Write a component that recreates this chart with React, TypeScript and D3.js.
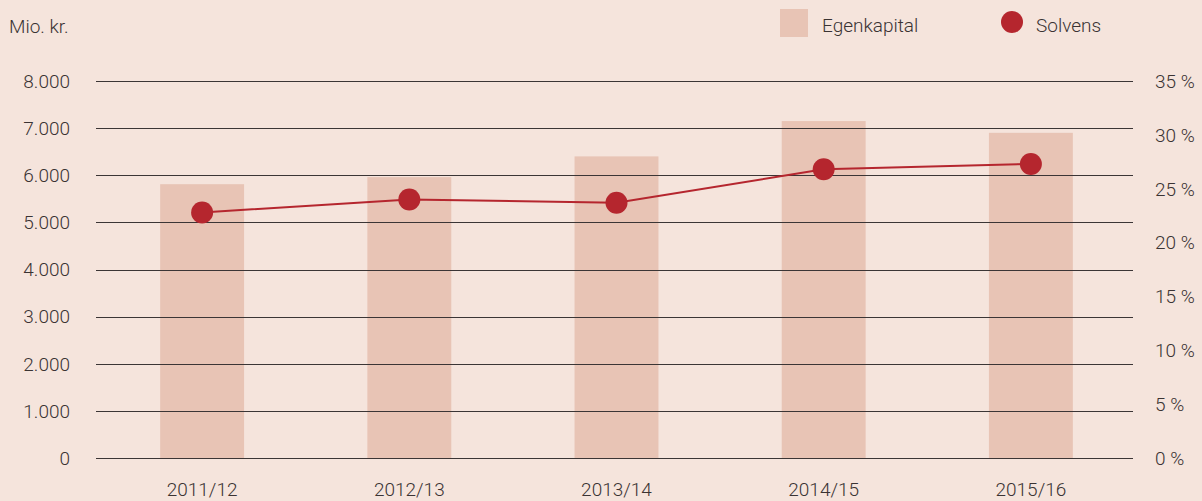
import React from "react";
import * as d3 from "d3";

const categories = ["2011/12", "2012/13", "2013/14", "2014/15", "2015/16"];
const egenkapital = [5810, 5960, 6400, 7150, 6900];
const solvens = [22.8, 24.0, 23.7, 26.8, 27.3];
const leftTicks = [0, 1000, 2000, 3000, 4000, 5000, 6000, 7000, 8000];
const rightTicks = [0, 5, 10, 15, 20, 25, 30, 35];

const W = 1202;
const H = 501;
const BG = "#f5e4dc";
const BAR = "#e8c4b5";
const RED = "#b5262e";
const TEXT = "#3a3333";
const FONT = "Roboto, 'Open Sans', sans-serif";

export default function App() {
  const x = d3.scaleBand<string>().domain(categories).range([98, 1135]).paddingInner(0.595).paddingOuter(0.3);
  const yL = d3.scaleLinear().domain([0, 8000]).range([458, 81]);
  const yR = d3.scaleLinear().domain([0, 35]).range([458, 81]);
  const fmt = (v: number) => d3.format(",")(v).replace(/,/g, ".");
  const cx = (c: string) => (x(c) as number) + x.bandwidth() / 2;
  const line = d3
    .line<number>()
    .x((_, i) => cx(categories[i]))
    .y((d) => yR(d));

  return (
    <svg
      width={W}
      height={H}
      style={{ position: "absolute", left: 0, top: 0, background: BG }}
      fontFamily={FONT}
    >
      <rect x={0} y={0} width={W} height={H} fill={BG} />
      <text x={9} y={33} fontSize={19} fontWeight={300} fill={TEXT}>
        Mio. kr.
      </text>
      {/* legend */}
      <rect x={780} y={9} width={28} height={28} fill={BAR} />
      <text x={822} y={32} fontSize={19} fontWeight={300} fill={TEXT}>
        Egenkapital
      </text>
      <circle cx={1012} cy={22} r={11} fill={RED} />
      <text x={1036} y={32} fontSize={19} fontWeight={300} fill={TEXT}>
        Solvens
      </text>
      {/* bars */}
      {categories.map((c, i) => (
        <rect
          key={c}
          x={x(c)}
          y={yL(egenkapital[i])}
          width={x.bandwidth()}
          height={yL(0) - yL(egenkapital[i])}
          fill={BAR}
        />
      ))}
      {/* grid */}
      {leftTicks.map((t) => (
        <g key={t}>
          <line x1={96} x2={1133} y1={Math.round(yL(t)) + 0.5} y2={Math.round(yL(t)) + 0.5} stroke="#3b3535" strokeWidth={1} />
          <text x={70} y={yL(t)} dy="0.36em" textAnchor="end" fontSize={19} fontWeight={300} fill={TEXT}>
            {fmt(t)}
          </text>
        </g>
      ))}
      {rightTicks.map((t) => (
        <text key={t} x={1155} y={yR(t)} dy="0.36em" fontSize={19} fontWeight={300} fill={TEXT}>
          {t} %
        </text>
      ))}
      {categories.map((c) => (
        <text key={c} x={cx(c)} y={496} textAnchor="middle" fontSize={19} fontWeight={300} fill={TEXT}>
          {c}
        </text>
      ))}
      <path d={line(solvens) || ""} fill="none" stroke={RED} strokeWidth={2} />
      {solvens.map((v, i) => (
        <circle key={i} cx={cx(categories[i])} cy={yR(v)} r={11} fill={RED} />
      ))}
    </svg>
  );
}
